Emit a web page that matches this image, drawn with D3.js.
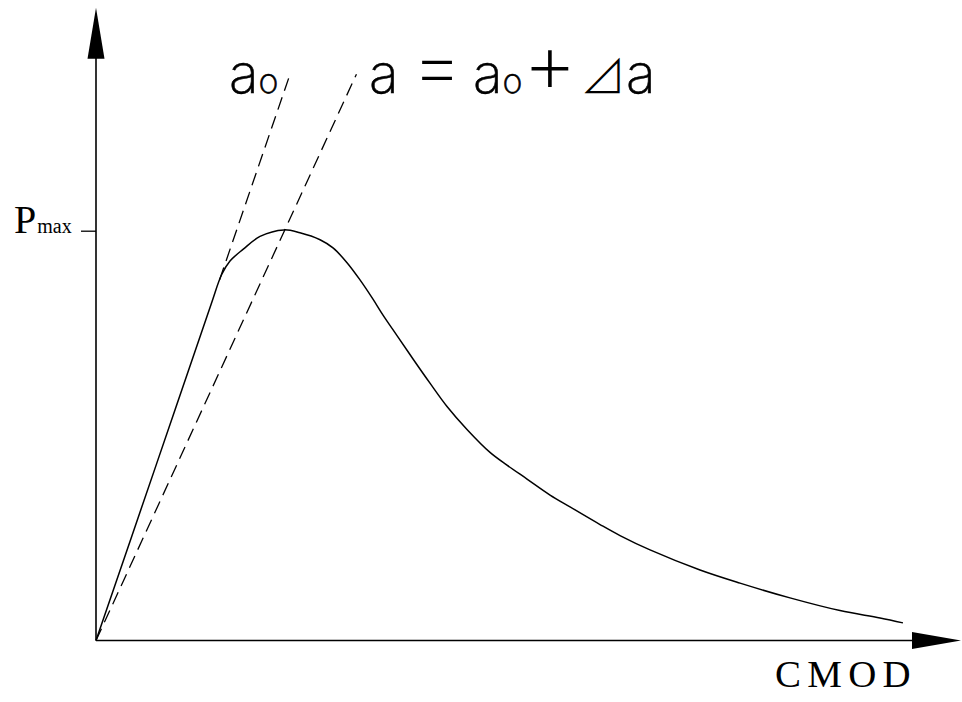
<!DOCTYPE html>
<html lang="en">
<head>
<meta charset="UTF-8">
<title>Load vs CMOD</title>
<script src="https://cdn.jsdelivr.net/npm/d3@7"></script>
<style>
  body { margin: 0; background: #fff; }
  svg { display: block; }
</style>
</head>
<body>
<svg id="chart" width="962" height="702"></svg>
<script>
// curve: CMOD (arbitrary units) vs P / Pmax
const cmod = [0, 0.70, 1.330, 1.453, 1.549, 1.703, 1.896, 2.173, 2.358, 2.590, 2.740, 2.902, 3.052, 3.202,
              3.318, 3.480, 3.665, 3.861, 4.058, 4.289, 4.555, 4.751, 4.983, 5.249, 5.480, 5.827,
              6.058, 6.405, 6.983, 7.445, 8.023, 8.601, 9.064, 9.329];
const load = [0, 0.431, 0.820, 0.893, 0.926, 0.955, 0.986, 1.002, 0.995, 0.978, 0.958, 0.922, 0.880, 0.833,
              0.794, 0.744, 0.687, 0.628, 0.571, 0.515, 0.459, 0.428, 0.394, 0.355, 0.326, 0.283,
              0.256, 0.221, 0.172, 0.140, 0.104, 0.073, 0.055, 0.043];

// compliance lines (P = k * CMOD): initial crack a0 and grown crack a0 + da
const slopeA0 = 0.616, slopeA = 0.459;
const a0Range = [0.88, 1.382];   // visible part of the a0 line (P)
const aRange = [0, 1.382];

const xMax = 10, yTop = 1.544;

const svg = d3.select("#chart");
const x = d3.scaleLinear().domain([0, xMax]).range([96, 961]);
const y = d3.scaleLinear().domain([0, 1]).range([640.5, 230.7]);

// axes
const axisG = svg.append("g").attr("stroke", "#000").attr("stroke-width", 1.6);
axisG.append("line").attr("x1", x(0)).attr("y1", y(0)).attr("x2", x(0)).attr("y2", y(yTop) + 40);
axisG.append("line").attr("x1", x(0)).attr("y1", y(0)).attr("x2", x(xMax) - 40).attr("y2", y(0));

svg.append("path")
  .attr("d", `M${x(0)},${y(yTop)} L${x(0) - 8.5},${y(yTop) + 51} L${x(0) + 8.5},${y(yTop) + 51} Z`)
  .attr("fill", "#000");
svg.append("path")
  .attr("d", `M${x(xMax)},${y(0)} L${x(xMax) - 49},${y(0) - 8.5} L${x(xMax) - 49},${y(0) + 8.5} Z`)
  .attr("fill", "#000");

// Pmax tick
const tick = svg.append("g")
  .attr("transform", `translate(${x(0)},0)`)
  .call(d3.axisLeft(y).tickValues([1]).tickSize(15).tickFormat(""));
tick.select(".domain").remove();
tick.selectAll("line").attr("stroke", "#000").attr("stroke-width", 1.3);

// load curve
const pts = cmod.map((c, i) => [c, load[i]]);
svg.append("path")
  .datum(pts)
  .attr("fill", "none")
  .attr("stroke", "#000")
  .attr("stroke-width", 1.5)
  .attr("d", d3.line().x(d => x(d[0])).y(d => y(d[1])).curve(d3.curveCatmullRom.alpha(0.5)));

// dashed compliance lines
const dashLine = (k, r) => svg.append("line")
  .attr("x1", x(r[0] / k)).attr("y1", y(r[0]))
  .attr("x2", x(r[1] / k)).attr("y2", y(r[1]))
  .attr("stroke", "#000").attr("stroke-width", 1.3)
  .attr("stroke-dasharray", "13,7");
dashLine(slopeA0, a0Range);
dashLine(slopeA, aRange);

// labels
const serif = "'Liberation Serif', 'DejaVu Serif', serif";
const sans = "'DejaVu Sans ExtraLight', Inter, 'DejaVu Sans', sans-serif";
const cjk = "'Noto Sans CJK JP', 'DejaVu Sans', sans-serif";

const pl = svg.append("text").attr("x", 14).attr("y", 233).attr("font-family", serif).attr("fill", "#000");
pl.append("tspan").attr("font-size", 40).text("P");
pl.append("tspan").attr("font-size", 20).attr("dx", 1).text("max");

svg.append("text")
  .attr("x", 775).attr("y", 687)
  .attr("font-family", serif).attr("font-size", 37)
  .attr("letter-spacing", 6)
  .attr("textLength", 142).attr("lengthAdjust", "spacingAndGlyphs")
  .text("CMOD");

// top labels: each part is a list of [text, font, size, dx, stroke]
const labelParts = [
  { x: 229, anchor: "start", spans: [["a", sans, 55, 0, 0.6], ["o", sans, 34, 0, 0.6]] },
  { x: 369, anchor: "start", spans: [["a", sans, 55, 0, 0.6]] },
  { x: 437, anchor: "middle", spans: [["=", sans, 80, 0, 0]] },
  { x: 473, anchor: "start", spans: [["a", sans, 55, 0, 0.6], ["o", sans, 34, 0, 0.6]] },
  { x: 550, anchor: "middle", spans: [["+", sans, 85, 0, 0]] },
  { x: 580, anchor: "start", spans: [["\u22BF", cjk, 46, 0, 0], ["a", sans, 55, 0, 0.6]] }
];
const lbl = svg.selectAll("text.lbl")
  .data(labelParts)
  .join("text")
  .attr("class", "lbl")
  .attr("x", d => d.x).attr("y", 93)
  .attr("text-anchor", d => d.anchor)
  .attr("fill", "#000");
lbl.selectAll("tspan")
  .data(d => d.spans)
  .join("tspan")
  .attr("font-family", s => s[1])
  .attr("font-size", s => s[2])
  .attr("font-weight", s => s[1] === cjk ? 300 : 200)
  .attr("dx", s => s[3])
  .attr("stroke", s => s[4] ? "#000" : null)
  .attr("stroke-width", s => s[4] || null)
  .text(s => s[0]);
</script>
</body>
</html>
